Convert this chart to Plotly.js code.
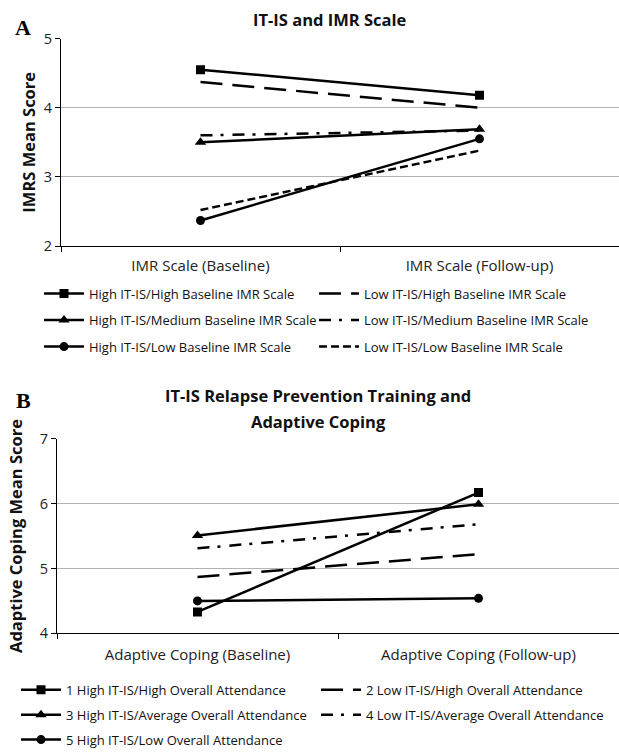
<!DOCTYPE html>
<html><head><meta charset="utf-8">
<script src="https://cdn.plot.ly/plotly-3.0.1.min.js"></script>
<style>html,body{margin:0;padding:0;background:#fff}</style>
</head><body><div id="chart" style="width:619px;height:755px"></div>
<script>
// Panel A
const catsA = ['IMR Scale (Baseline)', 'IMR Scale (Follow-up)'];
const highHighIMR = [4.55, 4.18];
const lowHighIMR = [4.37, 4.00];
const highMedIMR = [3.50, 3.69];
const lowMedIMR = [3.60, 3.67];
const highLowIMR = [2.37, 3.55];
const lowLowIMR = [2.52, 3.38];
const namesA = ['High IT-IS/High Baseline IMR Scale', 'Low IT-IS/High Baseline IMR Scale',
  'High IT-IS/Medium Baseline IMR Scale', 'Low IT-IS/Medium Baseline IMR Scale',
  'High IT-IS/Low Baseline IMR Scale', 'Low IT-IS/Low Baseline IMR Scale'];
// Panel B
const catsB = ['Adaptive Coping (Baseline)', 'Adaptive Coping (Follow-up)'];
const g1 = [4.33, 6.17];
const g2 = [4.87, 5.22];
const g3 = [5.51, 5.99];
const g4 = [5.31, 5.68];
const g5 = [4.50, 4.54];
const namesB = ['1 High IT-IS/High Overall Attendance', '2 Low IT-IS/High Overall Attendance',
  '3 High IT-IS/Average Overall Attendance', '4 Low IT-IS/Average Overall Attendance',
  '5 High IT-IS/Low Overall Attendance'];

const LW = 2.5;
function solid(name, x, y, sym, xa, ya, leg, grp) {
  return {type: 'scatter', mode: 'lines+markers', name, x, y, xaxis: xa, yaxis: ya, legend: leg, legendgroup: grp,
    line: {color: '#000', width: LW}, marker: {symbol: sym, size: sym === 'triangle-up' ? 10 : 9, color: '#000'}};
}
function dashed(name, x, y, dash, xa, ya, leg, grp) {
  return {type: 'scatter', mode: 'lines', name, x, y, xaxis: xa, yaxis: ya, legend: leg, legendgroup: grp,
    line: {color: '#000', width: LW, dash}};
}
const LONG = '22px,10px', DASHDOT = '12px,8px,3px,9px', SHORT = '8px,4px';

const data = [
  solid(namesA[0], catsA, highHighIMR, 'square', 'x', 'y', 'legend', 'a1'),
  solid(namesA[2], catsA, highMedIMR, 'triangle-up', 'x', 'y', 'legend', 'a3'),
  solid(namesA[4], catsA, highLowIMR, 'circle', 'x', 'y', 'legend', 'a5'),
  dashed(namesA[1], catsA, lowHighIMR, LONG, 'x', 'y', 'legend2', 'a2'),
  dashed(namesA[3], catsA, lowMedIMR, DASHDOT, 'x', 'y', 'legend2', 'a4'),
  dashed(namesA[5], catsA, lowLowIMR, SHORT, 'x', 'y', 'legend2', 'a6'),
  solid(namesB[0], catsB, g1, 'square', 'x2', 'y2', 'legend3', 'b1'),
  solid(namesB[2], catsB, g3, 'triangle-up', 'x2', 'y2', 'legend3', 'b3'),
  solid(namesB[4], catsB, g5, 'circle', 'x2', 'y2', 'legend3', 'b5'),
  dashed(namesB[1], catsB, g2, LONG, 'x2', 'y2', 'legend4', 'b2'),
  dashed(namesB[3], catsB, g4, DASHDOT, 'x2', 'y2', 'legend4', 'b4')
];

const FONT = 'Open Sans, sans-serif';
const W = 619, H = 755;
function xax(dom, anchor, standoff) {
  return {domain: dom, anchor, type: 'category', range: [-0.5, 1.5], tickson: 'boundaries', ticks: 'outside',
    ticklen: 5, tickcolor: '#000', showline: true, linecolor: '#000', linewidth: 1, showgrid: false,
    tickfont: {size: 15, color: '#222', family: FONT}, ticklabelstandoff: standoff, fixedrange: true};
}
function yax(dom, anchor, range, title, standoff) {
  return {domain: dom, anchor, range, dtick: 1, ticks: 'outside', ticklen: 5, tickcolor: '#000',
    showline: true, linecolor: '#000', linewidth: 1, showgrid: true, gridcolor: '#b3b3b3', gridwidth: 1,
    zeroline: false, tickfont: {size: 14.5, color: '#222', family: FONT},
    title: {text: title, font: {size: 16.5, color: '#111', family: FONT, weight: 'bold'}, standoff}, fixedrange: true};
}
function leg(xpx, ytop, size, gap) {
  return {x: xpx / W, y: 1 - ytop / H, xanchor: 'left', yanchor: 'top', orientation: 'v',
    font: {size, color: '#111', family: FONT}, itemwidth: 40, tracegroupgap: gap,
    bgcolor: 'rgba(0,0,0,0)', borderwidth: 0};
}

const layout = {
  width: W, height: H, margin: {l: 0, r: 0, t: 0, b: 0},
  paper_bgcolor: '#fff', plot_bgcolor: '#fff', font: {family: FONT, color: '#111'},
  hovermode: false, showlegend: true,
  xaxis: xax([61 / W, 1], 'y', 6),
  yaxis: yax([1 - 249 / H, 1 - 39 / H], 'x', [2, 5], 'IMRS Mean Score', 4),
  xaxis2: xax([57 / W, 1], 'y2', 8),
  yaxis2: yax([1 - 641 / H, 1 - 444 / H], 'x2', [4, 7], 'Adaptive Coping Mean Score', 13),
  legend: leg(39, 282, 13, 6.6),
  legend2: leg(314, 282, 13, 6.6),
  legend3: leg(16, 683, 13, 5),
  legend4: leg(316, 683, 13, 5),
  annotations: [
    {text: 'IT-IS and IMR Scale', x: 329 / W, y: 1 - 20 / H, xref: 'paper', yref: 'paper', xanchor: 'center', yanchor: 'middle', showarrow: false, font: {size: 16.5, weight: 'bold', color: '#111', family: FONT}},
    {text: 'IT-IS Relapse Prevention Training and', x: 318 / W, y: 1 - 400 / H, xref: 'paper', yref: 'paper', xanchor: 'center', yanchor: 'middle', showarrow: false, font: {size: 16.5, weight: 'bold', color: '#111', family: FONT}},
    {text: 'Adaptive Coping', x: 318 / W, y: 1 - 427 / H, xref: 'paper', yref: 'paper', xanchor: 'center', yanchor: 'middle', showarrow: false, font: {size: 16.5, weight: 'bold', color: '#111', family: FONT}},
    {text: 'A', x: 23 / W, y: 1 - 28 / H, xref: 'paper', yref: 'paper', xanchor: 'center', yanchor: 'middle', showarrow: false, font: {size: 22, weight: 'bold', color: '#000', family: 'Liberation Serif, serif'}},
    {text: 'B', x: 23 / W, y: 1 - 405 / H, xref: 'paper', yref: 'paper', xanchor: 'center', yanchor: 'middle', showarrow: false, font: {size: 22, weight: 'bold', color: '#000', family: 'Liberation Serif, serif'}}
  ]
};

Plotly.newPlot('chart', data, layout, {staticPlot: true, displayModeBar: false});
</script></body></html>
